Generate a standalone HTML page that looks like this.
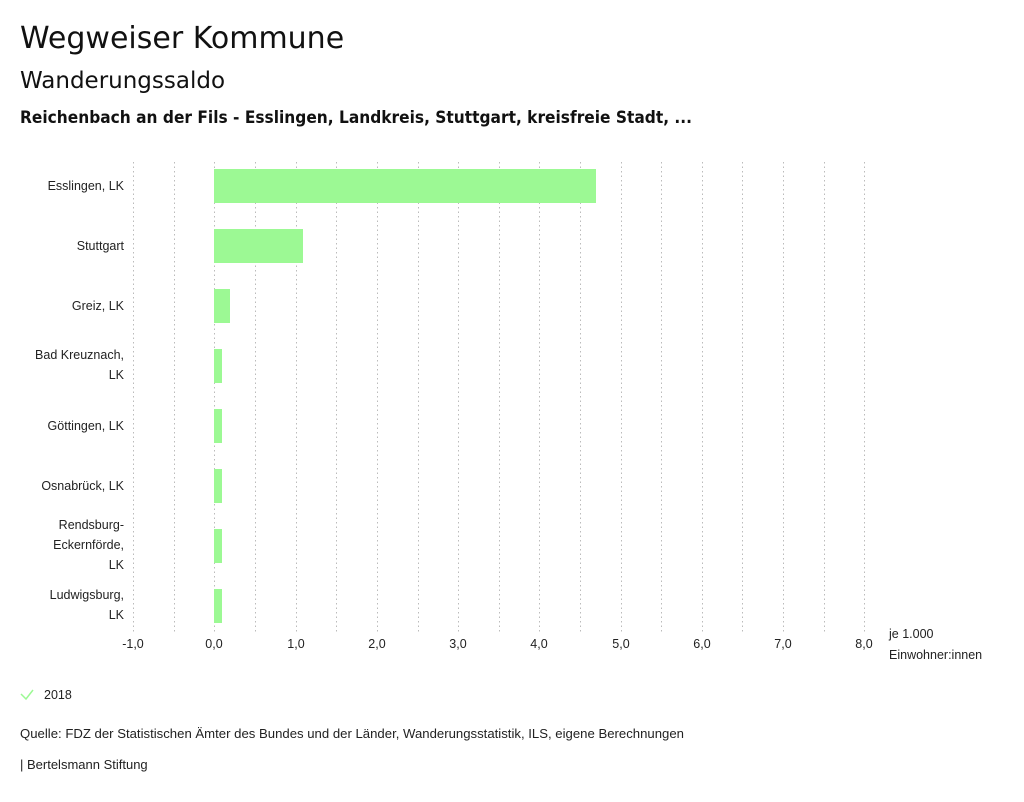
<!DOCTYPE html>
<html><head><meta charset="utf-8"><style>
body{margin:0;background:#fff;width:1024px;height:797px;overflow:hidden;font-family:"Liberation Sans",sans-serif;color:#111}
</style></head><body>
<svg width="1024" height="797" xmlns="http://www.w3.org/2000/svg" font-family="Liberation Sans, sans-serif">
<text x="20" y="48" font-family="DejaVu Sans, sans-serif" font-size="30" fill="#111">Wegweiser Kommune</text>
<text x="20" y="88" font-family="DejaVu Sans, sans-serif" font-size="23" fill="#111">Wanderungssaldo</text>
<text x="20" y="123" font-family="DejaVu Sans, sans-serif" font-size="17" font-weight="bold" textLength="672" lengthAdjust="spacingAndGlyphs" fill="#111">Reichenbach an der Fils - Esslingen, Landkreis, Stuttgart, kreisfreie Stadt, ...</text>
<g stroke="#bbb" stroke-width="1" stroke-dasharray="1.5,3">
<line x1="133.5" y1="162" x2="133.5" y2="632"/><line x1="174.5" y1="162" x2="174.5" y2="632"/>
<line x1="214.5" y1="162" x2="214.5" y2="632"/><line x1="255.5" y1="162" x2="255.5" y2="632"/>
<line x1="296.5" y1="162" x2="296.5" y2="632"/><line x1="336.5" y1="162" x2="336.5" y2="632"/>
<line x1="377.5" y1="162" x2="377.5" y2="632"/><line x1="418.5" y1="162" x2="418.5" y2="632"/>
<line x1="458.5" y1="162" x2="458.5" y2="632"/><line x1="499.5" y1="162" x2="499.5" y2="632"/>
<line x1="539.5" y1="162" x2="539.5" y2="632"/><line x1="580.5" y1="162" x2="580.5" y2="632"/>
<line x1="621.5" y1="162" x2="621.5" y2="632"/><line x1="661.5" y1="162" x2="661.5" y2="632"/>
<line x1="702.5" y1="162" x2="702.5" y2="632"/><line x1="742.5" y1="162" x2="742.5" y2="632"/>
<line x1="783.5" y1="162" x2="783.5" y2="632"/><line x1="824.5" y1="162" x2="824.5" y2="632"/>
<line x1="864.5" y1="162" x2="864.5" y2="632"/>
</g>
<g fill="#9cf994">
<rect x="214" y="169" width="382" height="34"/>
<rect x="214" y="229" width="89" height="34"/>
<rect x="214" y="289" width="16" height="34"/>
<rect x="214" y="349" width="8" height="34"/>
<rect x="214" y="409" width="8" height="34"/>
<rect x="214" y="469" width="8" height="34"/>
<rect x="214" y="529" width="8" height="34"/>
<rect x="214" y="589" width="8" height="34"/>
</g>
<g font-size="12.5" fill="#222" text-anchor="end">
<text x="124" y="190">Esslingen, LK</text>
<text x="124" y="250">Stuttgart</text>
<text x="124" y="310">Greiz, LK</text>
<text x="124" y="359">Bad Kreuznach,</text><text x="124" y="379">LK</text>
<text x="124" y="430">Göttingen, LK</text>
<text x="124" y="490">Osnabrück, LK</text>
<text x="124" y="529">Rendsburg-</text><text x="124" y="549">Eckernförde,</text><text x="124" y="569">LK</text>
<text x="124" y="599">Ludwigsburg,</text><text x="124" y="619">LK</text>
</g>
<g font-size="12.5" fill="#222" text-anchor="middle">
<text x="133" y="648">-1,0</text><text x="214" y="648">0,0</text><text x="296" y="648">1,0</text>
<text x="377" y="648">2,0</text><text x="458" y="648">3,0</text><text x="539" y="648">4,0</text>
<text x="621" y="648">5,0</text><text x="702" y="648">6,0</text><text x="783" y="648">7,0</text>
<text x="864" y="648">8,0</text>
</g>
<text x="889" y="638" font-size="12.5" fill="#222">je 1.000</text>
<text x="889" y="659" font-size="12.5" fill="#222">Einwohner:innen</text>
<polyline points="21,694 26,699 33,690" fill="none" stroke="#9cf994" stroke-width="1.5"/>
<text x="44" y="699" font-size="12.5" fill="#222">2018</text>
<text x="20" y="738" font-size="13" textLength="664" lengthAdjust="spacingAndGlyphs" fill="#222">Quelle: FDZ der Statistischen Ämter des Bundes und der Länder, Wanderungsstatistik, ILS, eigene Berechnungen</text>
<text x="20" y="769" font-size="13" fill="#222">| Bertelsmann Stiftung</text>
</svg>
</body></html>
